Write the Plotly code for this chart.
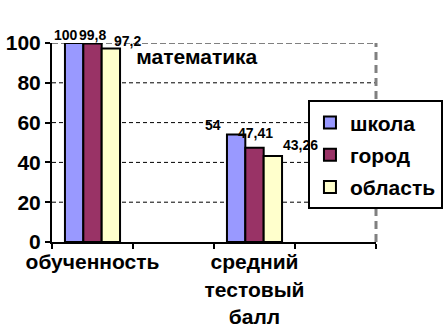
import plotly.graph_objects as go

categories = ["обученность", " ", "средний<br>тестовый<br>балл", "  "]
series_names = ["школа", "город", "область"]
school = [100, None, 54, None]
city = [99.8, None, 47.41, None]
region = [97.2, None, 43.26, None]
label_text = {
    "школа": ["100", None, "54", None],
    "город": ["99,8", None, "47,41", None],
    "область": ["97,2", None, "43,26", None],
}
y_ticks = [0, 20, 40, 60, 80, 100]
title_text = "математика"

colors = ["#9999FF", "#993366", "#FFFFCC"]
# label pixel offsets (x from category centre, y above bar top)
label_dx = {"школа": [-27, 0, -41.5, 0], "город": [-0.5, 0, 1, 0], "область": [35, 0, 45.5, 0]}
label_dy = {"школа": [8, 0, 10, 0], "город": [8, 0, 15, 0], "область": [8, 0, 11, 0]}

FONT = "Arial, 'Liberation Sans', sans-serif"
BIG = 21

fig = go.Figure()
for name, vals, col in zip(series_names, [school, city, region], colors):
    fig.add_trace(go.Bar(
        x=categories, y=vals, name=name, legendgroup=name,
        marker=dict(color=col, line=dict(color="black", width=2)),
        hoverinfo="skip",
    ))
    for i, v in enumerate(vals):
        if v is None:
            continue
        fig.add_annotation(
            x=categories[i], y=v, text=label_text[name][i], showarrow=False,
            xshift=label_dx[name][i], yshift=label_dy[name][i],
            xanchor="center", yanchor="middle",
            font=dict(family=FONT, size=14, color="black", weight="bold"),
        )

# gridlines (dashed black) for inner ticks
for t in y_ticks[1:-1]:
    fig.add_shape(type="line", xref="paper", x0=0, x1=1, yref="y", y0=t, y1=t,
                  line=dict(color="black", width=1, dash="4px,3px"), layer="below")
# plot-area border top and right (grey dashed)
fig.add_shape(type="line", xref="paper", x0=0, x1=1, yref="y", y0=y_ticks[-1], y1=y_ticks[-1],
              line=dict(color="#808080", width=2, dash="6px,3px"), layer="below")
fig.add_shape(type="line", xref="paper", x0=1, x1=1, yref="y", y0=0, y1=y_ticks[-1],
              line=dict(color="#808080", width=3, dash="8px,5px"), layer="below")

fig.update_layout(
    width=445, height=332,
    margin=dict(l=52, r=69, t=43, b=90, autoexpand=False),
    paper_bgcolor="white", plot_bgcolor="white",
    barmode="group", bargap=0.32, bargroupgap=0,
    font=dict(family=FONT, color="black"),
    title=dict(text=title_text, xref="paper", yref="paper", x=0.447, y=0.93,
               xanchor="center", yanchor="middle",
               font=dict(family=FONT, size=BIG, color="black", weight="bold")),
    legend=dict(x=0.79, y=0.712, xanchor="left", yanchor="top",
                bordercolor="black", borderwidth=2, bgcolor="white",
                font=dict(family=FONT, size=BIG, color="black", weight="bold"),
                traceorder="grouped", tracegroupgap=2, itemwidth=30),
    showlegend=True,
)
fig.update_xaxes(
    type="category", categoryorder="array", categoryarray=categories,
    range=[-0.5, 3.5], tickson="boundaries", tickangle=0, automargin=False,
    ticks="outside", ticklen=5, tickwidth=2, tickcolor="black",
    showline=True, linecolor="black", linewidth=2, showgrid=False,
    tickfont=dict(family=FONT, size=BIG, color="black", weight="bold"),
)
fig.update_yaxes(
    range=[0, 100], tickvals=y_ticks, ticks="outside", ticklen=5, tickwidth=2,
    tickcolor="black", showline=True, linecolor="black", linewidth=2,
    showgrid=False, zeroline=False, automargin=False,
    tickfont=dict(family=FONT, size=BIG, color="black", weight="bold"),
)

fig.write_html("out.html", config={"displayModeBar": False},
               post_script="document.body.style.margin='0';")
